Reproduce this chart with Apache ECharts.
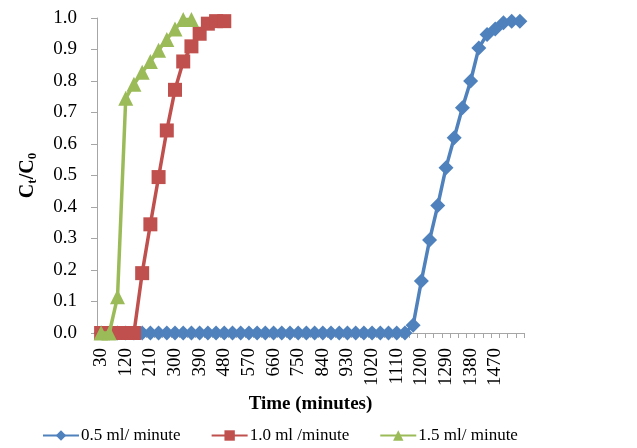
<!DOCTYPE html>
<html>
<head>
<meta charset="utf-8">
<script src="https://cdn.jsdelivr.net/npm/echarts@6/dist/echarts.min.js"></script>
<style>html,body{margin:0;padding:0;background:#fff}#c{width:637px;height:448px}</style>
</head>
<body>
<div id="c"></div>
<script>
// Time categories (minutes), every 30 min
const categories = ['30','60','90','120','150','180','210','240','270','300','330','360','390','420','450','480','510','540','570','600','630','660','690','720','750','780','810','840','870','900','930','960','990','1020','1050','1080','1110','1140','1170','1200','1230','1260','1290','1320','1350','1380','1410','1440','1470','1500','1530','1560'];
const tickLabels = ['30','120','210','300','390','480','570','660','750','840','930','1020','1110','1200','1290','1380','1470'];

const seriesNames = ['0.5 ml/ minute','1.0 ml /minute','1.5 ml/ minute'];
const flow05 = [0,0,0,0,0,0,0,0,0,0,0,0,0,0,0,0,0,0,0,0,0,0,0,0,0,0,0,0,0,0,0,0,0,0,0,0,0,0,
  0.025,0.165,0.295,0.405,0.525,0.62,0.715,0.80,0.905,0.948,0.965,0.985,0.99,0.99];
const flow10 = [0,0,0,0,0,0.19,0.345,0.495,0.643,0.772,0.862,0.91,0.95,0.982,0.99,0.99];
const flow15 = [0,0,0.115,0.745,0.79,0.828,0.862,0.898,0.932,0.965,0.995,0.995];

const colors = ['#4F81BD','#C0504D','#9BBB59'];
const symbols = ['diamond','rect','triangle'];
const sizes = [15,14,15];
const data = [flow05, flow10, flow15];

const font = '"Liberation Serif","Times New Roman",serif';
const chart = echarts.init(document.getElementById('c'));
chart.setOption({
  animation:false,
  textStyle:{fontFamily:font},
  grid:{left:97,right:113,top:18,bottom:115,containLabel:false},
  legend:{
    top:422,left:37,itemWidth:36,itemHeight:13,itemGap:30,
    textStyle:{fontFamily:font,fontSize:17,color:'#000',padding:[0,0,0,-3]},
    data:seriesNames
  },
  xAxis:{
    type:'category',data:categories,boundaryGap:true,
    name:'Time (minutes)',nameLocation:'middle',nameGap:62,
    nameTextStyle:{fontFamily:font,fontSize:19,fontWeight:'bold',color:'#000'},
    axisLine:{lineStyle:{color:'#A6A6A6',width:1}},
    axisTick:{show:true,interval:0,length:5,lineStyle:{color:'#A6A6A6'}},
    axisLabel:{
      rotate:90,color:'#000',fontSize:19,fontFamily:font,margin:15,
      interval:function(i,v){return tickLabels.indexOf(v)>=0;}
    },
    splitLine:{show:false}
  },
  yAxis:{
    type:'value',min:0,max:1,interval:0.1,
    name:'{a|C}{s|t}{a|/C}{s|0}',nameLocation:'middle',nameGap:58,nameRotate:90,
    nameTextStyle:{fontFamily:font,fontWeight:'bold',color:'#000',
      rich:{a:{fontFamily:font,fontSize:20,fontWeight:'bold',color:'#000'},
            s:{fontFamily:font,fontSize:13,fontWeight:'bold',color:'#000',verticalAlign:'bottom',padding:[9,0,0,0]}}},
    axisLine:{show:true,lineStyle:{color:'#A6A6A6',width:1}},
    axisTick:{show:true,length:6,lineStyle:{color:'#A6A6A6'}},
    axisLabel:{color:'#000',fontSize:19,fontFamily:font,margin:20,
      formatter:function(v){return v.toFixed(1);}},
    splitLine:{show:false}
  },
  series:seriesNames.map(function(n,k){
    return {
      name:n,type:'line',data:data[k],
      symbol:symbols[k],symbolSize:sizes[k],showAllSymbol:true,
      lineStyle:{color:colors[k],width:3.5},
      itemStyle:{color:colors[k]},
      z:2+k
    };
  })
});
</script>
</body>
</html>
